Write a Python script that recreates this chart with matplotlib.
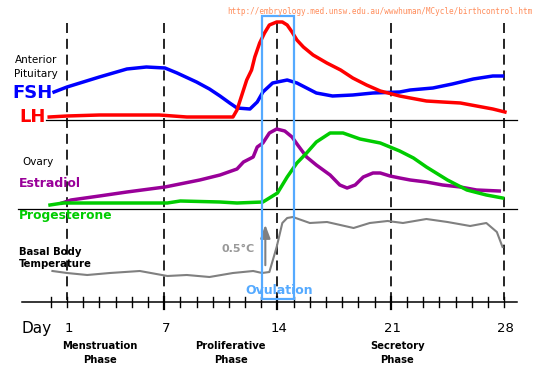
import numpy as np
import matplotlib
matplotlib.use("Agg")
import matplotlib.pyplot as plt
from matplotlib.patches import Rectangle

# curves: x in cycle days, y in chart rows (top = 0)
fsh_day = [0.2, 1.0, 3.0, 4.7, 5.9, 7.05, 7.8, 9.0, 9.8, 10.45, 11.05, 11.5, 12.3, 12.75,
           13.1, 13.7, 14.6, 15.2, 15.8, 16.4, 17.4, 18.65, 19.9, 21.55, 22.2, 23.6, 24.8,
           26.1, 27.3, 27.9]
fsh_lvl = [92, 87, 77, 69, 67, 68, 73, 82, 89, 96, 103, 108, 109, 102,
           92, 83, 80, 83, 88, 93, 96, 95, 93, 92, 90, 88, 84,
           79, 76, 76]

lh_day = [-0.1, 1, 3.0, 6.7, 8.4, 10.45, 11.25, 11.5, 11.7, 12.1, 12.4, 12.6, 12.9, 13.2,
          13.5, 13.95, 14.3, 14.6, 14.9, 15.2, 15.6, 16.2, 17.05, 17.9, 18.65, 19.5, 20.35,
          21.55, 22.2, 23.2, 24.2, 25.3, 26.3, 27.3, 28.05]
lh_lvl = [117, 116, 115, 115, 117, 117, 117, 110, 100, 80, 70, 57, 43, 33,
          25, 22, 22, 25, 32, 40, 47, 55, 63, 70, 78, 85, 91,
          96, 98, 101, 102, 103, 106, 109, 112]

est_day = [0.7, 1.25, 3.0, 4.7, 7.05, 9.2, 10.45, 11.5, 11.9, 12.5, 12.75, 13.1, 13.5, 13.95,
           14.45, 14.9, 15.25, 15.8, 16.4, 17.25, 17.85, 18.3, 18.8, 19.3, 19.9, 20.35, 20.95,
           21.55, 22.2, 23.2, 24.2, 25.3, 26.3, 27.7]
est_lvl = [203, 200, 196, 192, 187, 180, 175, 169, 162, 157, 147, 143, 133, 129,
           131, 137, 145, 157, 165, 175, 185, 188, 185, 177, 173, 173, 176,
           178, 180, 182, 185, 187, 190, 191]

prog_day = [-0.05, 0.75, 3.0, 7.2, 8.0, 10.45, 11.5, 13.1, 13.5, 14.0, 14.6, 15.2, 15.8,
            16.4, 17.25, 18.05, 19.1, 20.35, 21.55, 22.4, 23.2, 24.5, 25.7, 26.9, 27.9]
prog_lvl = [205, 203, 203, 203, 201, 202, 203, 202, 198, 193, 177, 163, 153,
            142, 133, 133, 139, 143, 151, 158, 167, 180, 190, 195, 198]

bbt_day = [0.1, 1, 2.25, 3.65, 5.5, 7.2, 8.4, 9.8, 11.25, 12.5, 13.05, 13.5, 13.95, 14.3,
           14.6, 14.95, 16.0, 17.06, 18.7, 19.7, 20.8, 21.75, 23.2, 24.5, 25.9, 26.9, 27.55, 27.9]
bbt_lvl = [271, 273, 275, 273, 271, 276, 275, 277, 273, 271, 273, 272, 247, 223,
           218, 217, 223, 222, 228, 223, 221, 223, 219, 222, 226, 223, 232, 247]

day_labels = [1, 7, 14, 21, 28]
phases = ["Menstruation\nPhase", "Proliferative\nPhase", "Secretory\nPhase"]
phase_pos = [3.05, 11.1, 21.4]

W, H = 534, 383
fig = plt.figure(figsize=(W / 100, H / 100), dpi=100)
ax = fig.add_axes([0, 0, 1, 1])
px_per_day = 16.19
ax.set_xlim(1 - 67 / px_per_day, 1 + (W - 67) / px_per_day)
ax.set_ylim(H, 0)
ax.axis("off")

def fx(x):
    return x / W

def fy(y):
    return 1 - y / H

lw = 2.5
# dashed day lines
for d in day_labels:
    ax.plot([d, d], [23, 300], color="black", lw=1.2, ls=(0, (6, 3.5)), zorder=1)

# panel dividers and axis
ax.plot([-0.3, 28.8], [120, 120], color="black", lw=0.9)
ax.plot([-2.0, 28.8], [209, 209], color="black", lw=0.9)
ax.plot([-1.8, 28.8], [302, 302], color="black", lw=1.1)
for d in range(0, 29):
    big = d in (7, 14, 21)
    ax.plot([d, d], [297, 309 if big else 307], color="black", lw=1.6 if big else 1.0)

ax.plot(fsh_day, fsh_lvl, color="#0000ff", lw=lw, solid_joinstyle="round", zorder=3)
ax.plot(lh_day, lh_lvl, color="#ff0000", lw=lw, solid_joinstyle="round", zorder=3)
ax.plot(est_day, est_lvl, color="#990099", lw=lw, solid_joinstyle="round", zorder=3)
ax.plot(prog_day, prog_lvl, color="#00cc00", lw=lw, solid_joinstyle="round", zorder=3)
ax.plot(bbt_day, bbt_lvl, color="#808080", lw=1.5, solid_joinstyle="round", zorder=3)

# ovulation box
ax.add_patch(Rectangle((13.04, 16), 1.98, 283, fill=False, edgecolor="#55aaff", lw=1.6, zorder=4))
ax.annotate("", xy=(13.25, 222), xytext=(13.25, 268),
            arrowprops=dict(arrowstyle="-|>,head_length=0.8,head_width=0.3", color="#808080", lw=1.5))

fig.text(fx(532), fy(12), "http://embryology.med.unsw.edu.au/wwwhuman/MCycle/birthcontrol.htm",
         color="#ff8c5a", fontsize=5.5, family="DejaVu Sans Mono", ha="right", va="center")

fig.text(fx(36), fy(60), "Anterior", fontsize=7.5, ha="center", va="center")
fig.text(fx(36), fy(74), "Pituitary", fontsize=7.5, ha="center", va="center")
fig.text(fx(12), fy(93), "FSH", color="#0000ff", fontsize=13, weight="bold", va="center")
fig.text(fx(19), fy(117), "LH", color="#ff0000", fontsize=13, weight="bold", va="center")
fig.text(fx(22), fy(162), "Ovary", fontsize=7.5, va="center")
fig.text(fx(19), fy(183), "Estradiol", color="#990099", fontsize=9, weight="bold", va="center")
fig.text(fx(19), fy(215), "Progesterone", color="#00cc00", fontsize=8.8, weight="bold", va="center")
fig.text(fx(19), fy(252), "Basal Body", fontsize=7.3, weight="bold", va="center")
fig.text(fx(19), fy(264), "Temperature", fontsize=7.3, weight="bold", va="center")
fig.text(fx(222), fy(249), "0.5°C", color="#999999", fontsize=8, weight="bold", va="center")
fig.text(fx(279), fy(291), "Ovulation", color="#55aaff", fontsize=9, weight="bold",
         ha="center", va="center")

fig.text(fx(22), fy(329), "Day", fontsize=11, va="center")
for d in day_labels:
    ax.text(d + 0.1, 329, str(d), fontsize=9.5, ha="center", va="center")
for p, x in zip(phases, phase_pos):
    ax.text(x, 353, p, fontsize=7.2, weight="bold", ha="center", va="center", linespacing=1.45)

fig.savefig("out.png", dpi=100)
